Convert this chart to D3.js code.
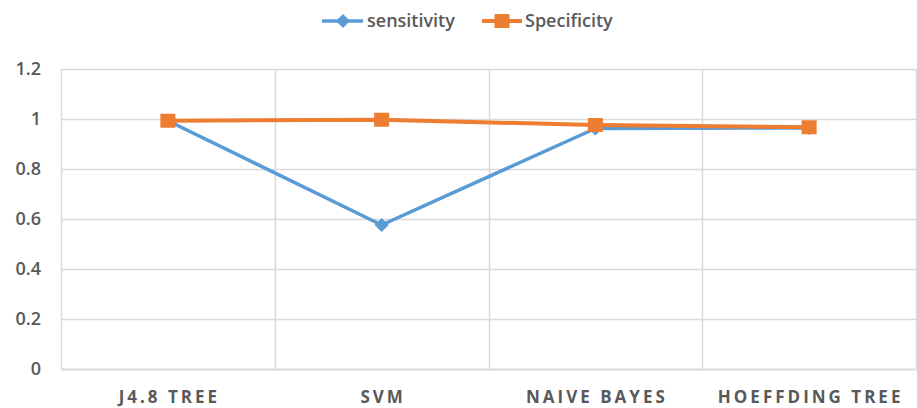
<!DOCTYPE html>
<html>
<head>
<meta charset="utf-8">
<script src="https://cdn.jsdelivr.net/npm/d3@7"></script>
<style>
  html, body { margin: 0; padding: 0; background: #fff; }
  svg { display: block; }
</style>
</head>
<body>
<svg id="chart" width="917" height="408"></svg>
<script>
// Classifier comparison: sensitivity vs specificity
const categories = ["J4.8 TREE", "SVM", "NAIVE BAYES", "HOEFFDING TREE"];
const sensitivity = [0.993, 0.576, 0.962, 0.964];
const specificity = [0.993, 0.997, 0.976, 0.967];
const yTicks = [0, 0.2, 0.4, 0.6, 0.8, 1, 1.2];
const seriesNames = ["sensitivity", "Specificity"];

const blue = "#5B9BD5", orange = "#ED7D31", grid = "#D9D9D9", text = "#595959";
const font = "'Open Sans', sans-serif";

const svg = d3.select("#chart");
const margin = { left: 61, right: 1, top: 69, bottom: 39 };
const W = 917, H = 408;

const x = d3.scaleBand().domain(categories).range([margin.left, W - margin.right]);
const y = d3.scaleLinear().domain([0, 1.2]).range([H - margin.bottom, margin.top]);

// horizontal gridlines
svg.append("g").selectAll("line").data(yTicks).join("line")
  .attr("x1", margin.left).attr("x2", W - margin.right)
  .attr("y1", d => Math.round(y(d)) + 0.5).attr("y2", d => Math.round(y(d)) + 0.5)
  .attr("stroke", grid).attr("stroke-width", d => d === 0 ? 2 : 1.5);

// vertical category separators
const bounds = categories.map(c => x(c)).concat([x.range()[1]]);
svg.append("g").selectAll("line").data(bounds).join("line")
  .attr("x1", d => Math.round(d) + 0.5).attr("x2", d => Math.round(d) + 0.5)
  .attr("y1", y(1.2)).attr("y2", y(0))
  .attr("stroke", grid).attr("stroke-width", 1.5);

// y tick labels
svg.append("g").selectAll("text").data(yTicks).join("text")
  .attr("x", 41).attr("y", d => y(d)).attr("dy", "0.36em")
  .attr("text-anchor", "end")
  .attr("font-family", font).attr("font-weight", 600).attr("font-size", 18)
  .attr("fill", text)
  .text(d => d3.format("~g")(d));

// category labels
svg.append("g").selectAll("text").data(categories).join("text")
  .attr("x", d => x(d) + x.bandwidth() / 2 + 1.5).attr("y", 403)
  .attr("text-anchor", "middle")
  .attr("font-family", font).attr("font-weight", 700).attr("font-size", 17)
  .attr("letter-spacing", "3px")
  .attr("fill", text)
  .text(d => d);

const cx = c => x(c) + x.bandwidth() / 2;
const line = vals => d3.line()
  .x((d, i) => cx(categories[i]))
  .y(d => y(d))(vals);

const diamond = d3.symbol().type(d3.symbolSquare).size(100);

// sensitivity series
svg.append("path").attr("d", line(sensitivity))
  .attr("fill", "none").attr("stroke", blue).attr("stroke-width", 3.5)
  .attr("stroke-linejoin", "round");
svg.append("g").selectAll("path").data(sensitivity).join("path")
  .attr("transform", (d, i) => `translate(${cx(categories[i])},${y(d)}) rotate(45)`)
  .attr("d", diamond)
  .attr("fill", blue);

// specificity series
svg.append("path").attr("d", line(specificity))
  .attr("fill", "none").attr("stroke", orange).attr("stroke-width", 4)
  .attr("stroke-linejoin", "round");
svg.append("g").selectAll("rect").data(specificity).join("rect")
  .attr("x", (d, i) => cx(categories[i]) - 7.5).attr("y", d => y(d) - 7)
  .attr("width", 15).attr("height", 14)
  .attr("fill", orange);

// legend
const legend = svg.append("g").attr("font-family", font).attr("font-weight", 600)
  .attr("font-size", 18).attr("fill", text);
const ly = 21;
legend.append("line").attr("x1", 322).attr("x2", 363).attr("y1", ly).attr("y2", ly)
  .attr("stroke", blue).attr("stroke-width", 3.5);
legend.append("path").attr("transform", `translate(343,${ly}) rotate(45)`)
  .attr("d", diamond).attr("fill", blue);
legend.append("text").attr("x", 367).attr("y", ly).attr("dy", "0.36em").text(seriesNames[0]);

legend.append("line").attr("x1", 482).attr("x2", 522).attr("y1", ly).attr("y2", ly)
  .attr("stroke", orange).attr("stroke-width", 4);
legend.append("rect").attr("x", 494.5).attr("y", ly - 7).attr("width", 15).attr("height", 14)
  .attr("fill", orange);
legend.append("text").attr("x", 525).attr("y", ly).attr("dy", "0.36em").text(seriesNames[1]);
</script>
</body>
</html>
